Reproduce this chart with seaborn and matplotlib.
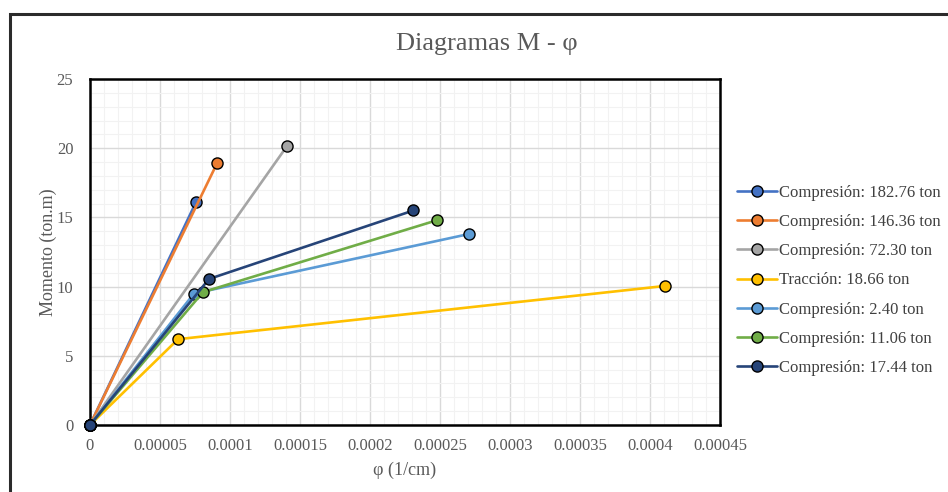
import matplotlib
matplotlib.use("Agg")
import matplotlib.pyplot as plt
import matplotlib.ticker as mticker
from matplotlib.patches import Rectangle
from matplotlib.lines import Line2D
import seaborn as sns
import pandas as pd

series_names = [
    "Compresión: 182.76 ton",
    "Compresión: 146.36 ton",
    "Compresión: 72.30 ton",
    "Tracción: 18.66 ton",
    "Compresión: 2.40 ton",
    "Compresión: 11.06 ton",
    "Compresión: 17.44 ton",
]
phi_values = [
    [0, 0.0000757],
    [0, 0.0000907],
    [0, 0.0001407],
    [0, 0.0000629, 0.000411],
    [0, 0.0000743, 0.0002707],
    [0, 0.0000807, 0.000248],
    [0, 0.0000850, 0.000231],
]
moment_values = [
    [0, 16.1],
    [0, 18.9],
    [0, 20.15],
    [0, 6.2, 10.05],
    [0, 9.5, 13.8],
    [0, 9.6, 14.8],
    [0, 10.55, 15.5],
]
colors = ["#4472C4", "#ED7D31", "#A5A5A5", "#FFC000", "#5B9BD5", "#70AD47", "#264478"]
x_ticks = [0, 0.00005, 0.0001, 0.00015, 0.0002, 0.00025, 0.0003, 0.00035, 0.0004, 0.00045]
x_tick_labels = ["0", "0.00005", "0.0001", "0.00015", "0.0002", "0.00025", "0.0003", "0.00035", "0.0004", "0.00045"]
y_ticks = [0, 5, 10, 15, 20, 25]

rows = []
for name, xs, ys in zip(series_names, phi_values, moment_values):
    for i, (x, y) in enumerate(zip(xs, ys)):
        rows.append({"serie": name, "phi": x, "M": y, "order": i})
df = pd.DataFrame(rows)

sns.set_style("white")
plt.rcParams["font.family"] = ["Liberation Serif", "DejaVu Serif"]

fig = plt.figure(figsize=(9.48, 4.92), dpi=100)
fig.patch.set_facecolor("white")
ax = fig.add_axes([90 / 948, 1 - 425 / 492, 630 / 948, 346 / 492])

sns.lineplot(
    data=df, x="phi", y="M", hue="serie", hue_order=series_names,
    palette=colors, sort=False, estimator=None, units="serie",
    marker="o", markersize=8, markeredgecolor="black", markeredgewidth=1.0,
    linewidth=1.9, ax=ax, legend=False, clip_on=False, zorder=3,
)

ax.set_xlim(0, 0.00045)
ax.set_ylim(0, 25)
ax.set_xticks(x_ticks)
ax.set_xticklabels(x_tick_labels)
ax.set_yticks(y_ticks)
ax.xaxis.set_minor_locator(mticker.MultipleLocator(0.00001))
ax.yaxis.set_minor_locator(mticker.MultipleLocator(1))
ax.grid(which="major", color="#D9D9D9", linewidth=1.0, zorder=0)
ax.grid(which="minor", color="#F2F2F2", linewidth=0.8, zorder=0)
ax.set_axisbelow(True)
ax.tick_params(axis="both", which="both", length=0, labelsize=12, colors="#595959")
ax.tick_params(axis="x", pad=9)
ax.tick_params(axis="y", pad=12)
for s in ax.spines.values():
    s.set_color("black")
    s.set_linewidth(1.8)

ax.set_xlabel("φ (1/cm)", fontsize=13, color="#595959", labelpad=6)
ax.set_ylabel("Momento (ton.m)", fontsize=13, color="#595959", labelpad=0)
fig.text(487 / 948, 1 - 44 / 492, "Diagramas M - φ", ha="center", va="center",
         fontsize=19, color="#595959")

leg_handles = [Line2D([0], [0], color=c, linewidth=1.9, marker="o", markersize=8,
                      markeredgecolor="black", markeredgewidth=1.0) for c in colors]
leg = fig.legend(leg_handles, series_names, loc="upper left",
                 bbox_to_anchor=(737 / 948, 1 - 185 / 492), frameon=False,
                 fontsize=12, handlelength=2.4, handletextpad=0.1,
                 labelspacing=0.79, borderaxespad=0, borderpad=0)
for t in leg.get_texts():
    t.set_color("#404040")

# outer frame (continues off the right and bottom edges)
fig.patches.append(Rectangle((10 / 948, -0.2), 1.2, 1 - 14 / 492 + 0.2,
                             transform=fig.transFigure, fill=False,
                             edgecolor="#2b2b2b", linewidth=2.2))

fig.savefig("out.png", dpi=100)
